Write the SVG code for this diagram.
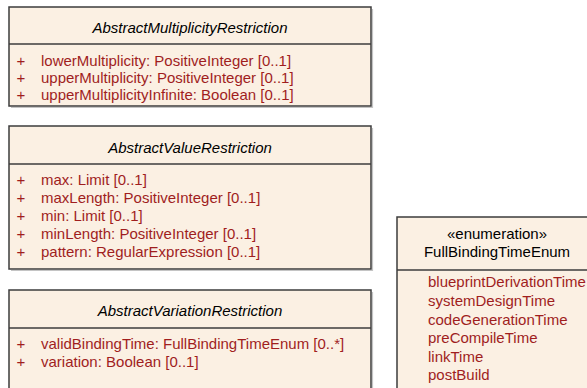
<svg xmlns="http://www.w3.org/2000/svg" width="587" height="388" viewBox="0 0 587 388">
<style>
.box{fill:#fbf0e3;stroke:#3c3c3c;stroke-width:1.5}
.sh{fill:none;stroke:#c4c4c4;stroke-width:1.2}
.div{stroke:#3c3c3c;stroke-width:1.5}
.t{font-family:"Liberation Sans",Arial,sans-serif;font-size:15px;fill:#000}
.ti{font-style:italic;text-anchor:middle}
.tc{text-anchor:middle}
.a{font-family:"Liberation Sans",Arial,sans-serif;font-size:15px;fill:#a01e1e}
</style>
<rect width="587" height="388" fill="#fff"/>
<g id="AbstractMultiplicityRestriction">
<path class="sh" d="M11 107.5 H372.5 V9"/>
<rect class="box" x="9" y="7" width="362" height="99"/>
<line class="div" x1="9" y1="44" x2="371" y2="44"/>
<text class="t ti" x="190" y="33">AbstractMultiplicityRestriction</text>
<text class="a" x="16.5" y="66">+</text><text class="a" x="41" y="66">lowerMultiplicity: PositiveInteger [0..1]</text>
<text class="a" x="16.5" y="83">+</text><text class="a" x="41" y="83">upperMultiplicity: PositiveInteger [0..1]</text>
<text class="a" x="16.5" y="100">+</text><text class="a" x="41" y="100">upperMultiplicityInfinite: Boolean [0..1]</text>
</g>
<g id="AbstractValueRestriction">
<path class="sh" d="M11 270.5 H372.5 V128"/>
<rect class="box" x="9" y="126" width="362" height="143"/>
<line class="div" x1="9" y1="164" x2="371" y2="164"/>
<text class="t ti" x="190" y="153">AbstractValueRestriction</text>
<text class="a" x="16.5" y="184.5">+</text><text class="a" x="41" y="184.5">max: Limit [0..1]</text>
<text class="a" x="16.5" y="202.5">+</text><text class="a" x="41" y="202.5">maxLength: PositiveInteger [0..1]</text>
<text class="a" x="16.5" y="220.5">+</text><text class="a" x="41" y="220.5">min: Limit [0..1]</text>
<text class="a" x="16.5" y="238.5">+</text><text class="a" x="41" y="238.5">minLength: PositiveInteger [0..1]</text>
<text class="a" x="16.5" y="256.5">+</text><text class="a" x="41" y="256.5">pattern: RegularExpression [0..1]</text>
</g>
<g id="AbstractVariationRestriction">
<path class="sh" d="M372.5 292 V400"/>
<rect class="box" x="9" y="290" width="362" height="110"/>
<line class="div" x1="9" y1="328" x2="371" y2="328"/>
<text class="t ti" x="190" y="315.5">AbstractVariationRestriction</text>
<text class="a" x="16.5" y="348.5">+</text><text class="a" x="41" y="348.5">validBindingTime: FullBindingTimeEnum [0..*]</text>
<text class="a" x="16.5" y="366.5">+</text><text class="a" x="41" y="366.5">variation: Boolean [0..1]</text>
</g>
<g id="FullBindingTimeEnum">
<rect class="box" x="397" y="217" width="210" height="183"/>
<line class="div" x1="397" y1="270" x2="607" y2="270"/>
<text class="t tc" x="497" y="238.5">«enumeration»</text>
<text class="t tc" x="497" y="257">FullBindingTimeEnum</text>
<text class="a" x="428" y="287">blueprintDerivationTime</text>
<text class="a" x="428" y="306">systemDesignTime</text>
<text class="a" x="428" y="324.5">codeGenerationTime</text>
<text class="a" x="428" y="342.5">preCompileTime</text>
<text class="a" x="428" y="361.5">linkTime</text>
<text class="a" x="428" y="379.5">postBuild</text>
</g>
<g id="connectors"/>
</svg>
